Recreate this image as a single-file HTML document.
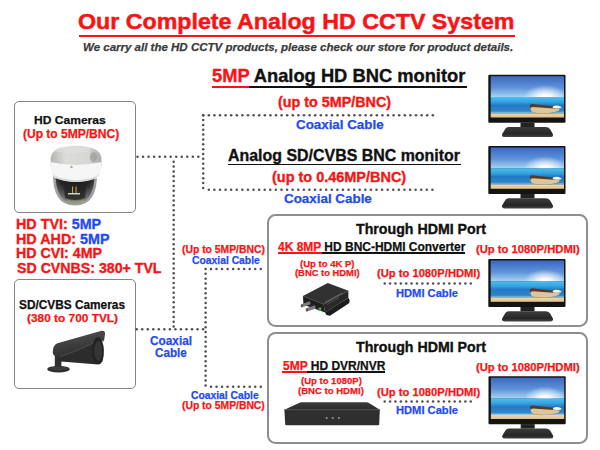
<!DOCTYPE html>
<html><head><meta charset="utf-8"><style>
html,body{margin:0;padding:0;background:#fff;}
body{width:600px;height:450px;position:relative;overflow:hidden;font-family:'Liberation Sans',sans-serif;}
.t{position:absolute;white-space:nowrap;line-height:1;font-weight:bold;transform-origin:0 0;-webkit-text-stroke:0.2px currentColor;}
.box{position:absolute;box-sizing:border-box;border:2px solid #8e8e8e;}
.ul{position:absolute;}
svg{position:absolute;left:0;top:0;}
</style></head>
<body>
<div class='box' style='left:13.6px;top:100.8px;width:122.10px;height:112.50px;border-radius:5px;border:1.5px solid #858585;'></div><div class='box' style='left:13.6px;top:279.3px;width:122.10px;height:110.10px;border-radius:5px;border:1.5px solid #858585;'></div><div class='box' style='left:266.6px;top:213.5px;width:321.20px;height:113.00px;border-radius:8.5px;'></div><div class='box' style='left:266.6px;top:332.2px;width:321.20px;height:111.80px;border-radius:8.5px;'></div><div class='ul' style='left:78.8px;top:34.8px;width:436.2px;height:2.3px;background:#f81414'></div><div class='ul' style='left:212.3px;top:85.5px;width:254.7px;height:2px;background:#111'></div><div class='ul' style='left:212.3px;top:85.5px;width:37.19999999999999px;height:2px;background:#f81414'></div><div class='ul' style='left:227.5px;top:163.6px;width:233.0px;height:1.7px;background:#111'></div><div class='ul' style='left:277.5px;top:252.3px;width:187.5px;height:1.8px;background:#111'></div><div class='ul' style='left:277.5px;top:252.3px;width:44.0px;height:1.8px;background:#f81414'></div><div class='ul' style='left:282.3px;top:371.2px;width:102.30000000000001px;height:1.8px;background:#111'></div><div class='ul' style='left:282.3px;top:371.2px;width:24.69999999999999px;height:1.8px;background:#f81414'></div>
<svg width="600" height="450" viewBox="0 0 600 450">
<defs>
<symbol id="mon" viewBox="0 0 78 63" overflow="visible">
  <defs>
    <linearGradient id="sky" x1="0" y1="0" x2="0" y2="1">
      <stop offset="0" stop-color="#3a68c2"/>
      <stop offset="0.55" stop-color="#5f93d8"/>
      <stop offset="1" stop-color="#a8d4f2"/>
    </linearGradient>
    <linearGradient id="sea" x1="0" y1="0" x2="0" y2="1">
      <stop offset="0" stop-color="#4cc0f0"/>
      <stop offset="0.3" stop-color="#34a2e0"/>
      <stop offset="0.5" stop-color="#2479c6"/>
      <stop offset="0.85" stop-color="#2f86c8"/>
      <stop offset="1" stop-color="#9fd0e6"/>
    </linearGradient>
    <linearGradient id="sand" x1="0" y1="0" x2="0" y2="1">
      <stop offset="0" stop-color="#ecd7a8"/>
      <stop offset="1" stop-color="#dfc28a"/>
    </linearGradient>
    <radialGradient id="sun" cx="0.5" cy="0.5" r="0.5">
      <stop offset="0" stop-color="#ffffff" stop-opacity="1"/>
      <stop offset="0.3" stop-color="#ffffff" stop-opacity="0.9"/>
      <stop offset="1" stop-color="#ffffff" stop-opacity="0"/>
    </radialGradient>
    <linearGradient id="base" x1="0" y1="0" x2="0" y2="1">
      <stop offset="0" stop-color="#3c3c3c"/>
      <stop offset="0.7" stop-color="#262626"/>
      <stop offset="1" stop-color="#454545"/>
    </linearGradient>
    <clipPath id="skyclip"><rect x="2.4" y="1.5" width="73.3" height="20.8"/></clipPath>
  </defs>
  <rect x="0" y="0" width="77.2" height="48" rx="1" fill="#141414"/>
  <rect x="2.4" y="1.5" width="73.3" height="20.9" fill="url(#sky)"/>
  <ellipse cx="56.6" cy="22.3" rx="21" ry="12" fill="url(#sun)" clip-path="url(#skyclip)" opacity="0.9"/>
  <ellipse cx="56.6" cy="22.3" rx="9" ry="4" fill="url(#sun)" clip-path="url(#skyclip)"/>
  <rect x="2.4" y="22.3" width="73.3" height="16.5" fill="url(#sea)"/>
  <rect x="2.4" y="38.7" width="73.3" height="4.1" fill="url(#sand)"/>
  <path d="M41.6 31.2 Q42 36.5 45.5 38.3 L53 38.7 Q64 38.4 70 36.2 L72.6 33 L44 30.8 Z" fill="#dcc79c"/>
  <path d="M43.5 36.5 Q45 38.2 53 38.6 Q64 38.3 70 36.2 L69 37.3 Q63 39 53 39 Q46 38.8 44 37.5 Z" fill="#9c7a52" opacity="0.7"/>
  <path d="M41.3 31 Q41.6 29.1 44 29.3 L72.8 32.4 L72.4 34.2 L44.5 32.3 Q42.6 32.4 42.2 34 Z" fill="#5a3a26"/>
  <path d="M64.5 31.8 Q68 29.6 73 32.2 L72.6 33.6 Q68.5 34 64.5 33.2 Z" fill="#f2f4f6"/>
  <rect x="32.2" y="47.9" width="14" height="4.5" fill="#222"/>
  <path d="M20 52.2 L57.7 52.2 Q60.8 52.4 62 54.8 L64.6 59.6 Q65.4 62.4 62 62.4 L16.4 62.4 Q13 62.4 13.8 59.6 L16.6 54.8 Q17.6 52.4 20 52.2 Z" fill="url(#base)"/>
</symbol>
</defs>
<g fill="#505050"><circle cx='203.20' cy='115.20' r='1.25'/><circle cx='208.80' cy='115.20' r='1.25'/><circle cx='214.40' cy='115.20' r='1.25'/><circle cx='220.00' cy='115.20' r='1.25'/><circle cx='225.60' cy='115.20' r='1.25'/><circle cx='231.20' cy='115.20' r='1.25'/><circle cx='236.80' cy='115.20' r='1.25'/><circle cx='242.40' cy='115.20' r='1.25'/><circle cx='248.00' cy='115.20' r='1.25'/><circle cx='253.60' cy='115.20' r='1.25'/><circle cx='259.20' cy='115.20' r='1.25'/><circle cx='264.80' cy='115.20' r='1.25'/><circle cx='270.40' cy='115.20' r='1.25'/><circle cx='276.00' cy='115.20' r='1.25'/><circle cx='281.60' cy='115.20' r='1.25'/><circle cx='287.20' cy='115.20' r='1.25'/><circle cx='292.80' cy='115.20' r='1.25'/><circle cx='298.40' cy='115.20' r='1.25'/><circle cx='304.00' cy='115.20' r='1.25'/><circle cx='309.60' cy='115.20' r='1.25'/><circle cx='315.20' cy='115.20' r='1.25'/><circle cx='320.80' cy='115.20' r='1.25'/><circle cx='326.40' cy='115.20' r='1.25'/><circle cx='332.00' cy='115.20' r='1.25'/><circle cx='337.60' cy='115.20' r='1.25'/><circle cx='343.20' cy='115.20' r='1.25'/><circle cx='348.80' cy='115.20' r='1.25'/><circle cx='354.40' cy='115.20' r='1.25'/><circle cx='360.00' cy='115.20' r='1.25'/><circle cx='365.60' cy='115.20' r='1.25'/><circle cx='371.20' cy='115.20' r='1.25'/><circle cx='376.80' cy='115.20' r='1.25'/><circle cx='382.40' cy='115.20' r='1.25'/><circle cx='388.00' cy='115.20' r='1.25'/><circle cx='393.60' cy='115.20' r='1.25'/><circle cx='399.20' cy='115.20' r='1.25'/><circle cx='404.80' cy='115.20' r='1.25'/><circle cx='410.40' cy='115.20' r='1.25'/><circle cx='416.00' cy='115.20' r='1.25'/><circle cx='421.60' cy='115.20' r='1.25'/><circle cx='427.20' cy='115.20' r='1.25'/><circle cx='432.80' cy='115.20' r='1.25'/><circle cx='203.20' cy='115.20' r='1.25'/><circle cx='203.20' cy='120.05' r='1.25'/><circle cx='203.20' cy='124.90' r='1.25'/><circle cx='203.20' cy='129.75' r='1.25'/><circle cx='203.20' cy='134.60' r='1.25'/><circle cx='203.20' cy='139.45' r='1.25'/><circle cx='203.20' cy='144.30' r='1.25'/><circle cx='203.20' cy='149.15' r='1.25'/><circle cx='203.20' cy='154.00' r='1.25'/><circle cx='203.20' cy='158.85' r='1.25'/><circle cx='203.20' cy='163.70' r='1.25'/><circle cx='203.20' cy='168.55' r='1.25'/><circle cx='203.20' cy='173.40' r='1.25'/><circle cx='203.20' cy='178.25' r='1.25'/><circle cx='203.20' cy='183.10' r='1.25'/><circle cx='203.20' cy='187.95' r='1.25'/><circle cx='208.80' cy='189.80' r='1.25'/><circle cx='214.39' cy='189.80' r='1.25'/><circle cx='219.98' cy='189.80' r='1.25'/><circle cx='225.57' cy='189.80' r='1.25'/><circle cx='231.16' cy='189.80' r='1.25'/><circle cx='236.75' cy='189.80' r='1.25'/><circle cx='242.34' cy='189.80' r='1.25'/><circle cx='247.93' cy='189.80' r='1.25'/><circle cx='253.52' cy='189.80' r='1.25'/><circle cx='259.11' cy='189.80' r='1.25'/><circle cx='264.70' cy='189.80' r='1.25'/><circle cx='270.29' cy='189.80' r='1.25'/><circle cx='275.88' cy='189.80' r='1.25'/><circle cx='281.47' cy='189.80' r='1.25'/><circle cx='287.06' cy='189.80' r='1.25'/><circle cx='292.65' cy='189.80' r='1.25'/><circle cx='298.24' cy='189.80' r='1.25'/><circle cx='303.83' cy='189.80' r='1.25'/><circle cx='309.42' cy='189.80' r='1.25'/><circle cx='315.01' cy='189.80' r='1.25'/><circle cx='320.60' cy='189.80' r='1.25'/><circle cx='326.19' cy='189.80' r='1.25'/><circle cx='331.78' cy='189.80' r='1.25'/><circle cx='337.37' cy='189.80' r='1.25'/><circle cx='342.96' cy='189.80' r='1.25'/><circle cx='348.55' cy='189.80' r='1.25'/><circle cx='354.14' cy='189.80' r='1.25'/><circle cx='359.73' cy='189.80' r='1.25'/><circle cx='365.32' cy='189.80' r='1.25'/><circle cx='370.91' cy='189.80' r='1.25'/><circle cx='376.50' cy='189.80' r='1.25'/><circle cx='382.09' cy='189.80' r='1.25'/><circle cx='387.68' cy='189.80' r='1.25'/><circle cx='393.27' cy='189.80' r='1.25'/><circle cx='398.86' cy='189.80' r='1.25'/><circle cx='404.45' cy='189.80' r='1.25'/><circle cx='410.04' cy='189.80' r='1.25'/><circle cx='415.63' cy='189.80' r='1.25'/><circle cx='421.22' cy='189.80' r='1.25'/><circle cx='426.81' cy='189.80' r='1.25'/><circle cx='432.40' cy='189.80' r='1.25'/><circle cx='137.50' cy='156.70' r='1.25'/><circle cx='143.03' cy='156.70' r='1.25'/><circle cx='148.56' cy='156.70' r='1.25'/><circle cx='154.09' cy='156.70' r='1.25'/><circle cx='159.62' cy='156.70' r='1.25'/><circle cx='165.15' cy='156.70' r='1.25'/><circle cx='170.68' cy='156.70' r='1.25'/><circle cx='176.21' cy='156.70' r='1.25'/><circle cx='181.74' cy='156.70' r='1.25'/><circle cx='187.27' cy='156.70' r='1.25'/><circle cx='192.80' cy='156.70' r='1.25'/><circle cx='198.33' cy='156.70' r='1.25'/><circle cx='173.70' cy='161.70' r='1.25'/><circle cx='173.70' cy='166.55' r='1.25'/><circle cx='173.70' cy='171.40' r='1.25'/><circle cx='173.70' cy='176.25' r='1.25'/><circle cx='173.70' cy='181.10' r='1.25'/><circle cx='173.70' cy='185.95' r='1.25'/><circle cx='173.70' cy='190.80' r='1.25'/><circle cx='173.70' cy='195.65' r='1.25'/><circle cx='173.70' cy='200.50' r='1.25'/><circle cx='173.70' cy='205.35' r='1.25'/><circle cx='173.70' cy='210.20' r='1.25'/><circle cx='173.70' cy='215.05' r='1.25'/><circle cx='173.70' cy='219.90' r='1.25'/><circle cx='173.70' cy='224.75' r='1.25'/><circle cx='173.70' cy='229.60' r='1.25'/><circle cx='173.70' cy='234.45' r='1.25'/><circle cx='173.70' cy='239.30' r='1.25'/><circle cx='173.70' cy='244.15' r='1.25'/><circle cx='173.70' cy='249.00' r='1.25'/><circle cx='173.70' cy='253.85' r='1.25'/><circle cx='173.70' cy='258.70' r='1.25'/><circle cx='173.70' cy='263.55' r='1.25'/><circle cx='173.70' cy='268.40' r='1.25'/><circle cx='173.70' cy='273.25' r='1.25'/><circle cx='173.70' cy='278.10' r='1.25'/><circle cx='173.70' cy='282.95' r='1.25'/><circle cx='173.70' cy='287.80' r='1.25'/><circle cx='173.70' cy='292.65' r='1.25'/><circle cx='173.70' cy='297.50' r='1.25'/><circle cx='173.70' cy='302.35' r='1.25'/><circle cx='173.70' cy='307.20' r='1.25'/><circle cx='173.70' cy='312.05' r='1.25'/><circle cx='173.70' cy='316.90' r='1.25'/><circle cx='173.70' cy='321.75' r='1.25'/><circle cx='173.70' cy='326.60' r='1.25'/><circle cx='136.70' cy='329.20' r='1.25'/><circle cx='142.23' cy='329.20' r='1.25'/><circle cx='147.76' cy='329.20' r='1.25'/><circle cx='153.29' cy='329.20' r='1.25'/><circle cx='158.82' cy='329.20' r='1.25'/><circle cx='164.35' cy='329.20' r='1.25'/><circle cx='169.88' cy='329.20' r='1.25'/><circle cx='175.41' cy='329.20' r='1.25'/><circle cx='180.94' cy='329.20' r='1.25'/><circle cx='186.47' cy='329.20' r='1.25'/><circle cx='192.00' cy='329.20' r='1.25'/><circle cx='197.53' cy='329.20' r='1.25'/><circle cx='203.06' cy='329.20' r='1.25'/><circle cx='205.60' cy='269.00' r='1.25'/><circle cx='205.60' cy='273.85' r='1.25'/><circle cx='205.60' cy='278.70' r='1.25'/><circle cx='205.60' cy='283.55' r='1.25'/><circle cx='205.60' cy='288.40' r='1.25'/><circle cx='205.60' cy='293.25' r='1.25'/><circle cx='205.60' cy='298.10' r='1.25'/><circle cx='205.60' cy='302.95' r='1.25'/><circle cx='205.60' cy='307.80' r='1.25'/><circle cx='205.60' cy='312.65' r='1.25'/><circle cx='205.60' cy='317.50' r='1.25'/><circle cx='205.60' cy='322.35' r='1.25'/><circle cx='205.60' cy='327.20' r='1.25'/><circle cx='205.60' cy='332.05' r='1.25'/><circle cx='205.60' cy='336.90' r='1.25'/><circle cx='205.60' cy='341.75' r='1.25'/><circle cx='205.60' cy='346.60' r='1.25'/><circle cx='205.60' cy='351.45' r='1.25'/><circle cx='205.60' cy='356.30' r='1.25'/><circle cx='205.60' cy='361.15' r='1.25'/><circle cx='205.60' cy='366.00' r='1.25'/><circle cx='205.60' cy='370.85' r='1.25'/><circle cx='205.60' cy='375.70' r='1.25'/><circle cx='205.60' cy='380.55' r='1.25'/><circle cx='205.60' cy='385.40' r='1.25'/><circle cx='211.00' cy='269.10' r='1.25'/><circle cx='216.53' cy='269.10' r='1.25'/><circle cx='222.06' cy='269.10' r='1.25'/><circle cx='227.59' cy='269.10' r='1.25'/><circle cx='233.12' cy='269.10' r='1.25'/><circle cx='238.65' cy='269.10' r='1.25'/><circle cx='244.18' cy='269.10' r='1.25'/><circle cx='249.71' cy='269.10' r='1.25'/><circle cx='255.24' cy='269.10' r='1.25'/><circle cx='260.77' cy='269.10' r='1.25'/><circle cx='211.00' cy='386.80' r='1.25'/><circle cx='216.53' cy='386.80' r='1.25'/><circle cx='222.06' cy='386.80' r='1.25'/><circle cx='227.59' cy='386.80' r='1.25'/><circle cx='233.12' cy='386.80' r='1.25'/><circle cx='238.65' cy='386.80' r='1.25'/><circle cx='244.18' cy='386.80' r='1.25'/><circle cx='249.71' cy='386.80' r='1.25'/><circle cx='255.24' cy='386.80' r='1.25'/><circle cx='260.77' cy='386.80' r='1.25'/><circle cx='384.70' cy='283.40' r='1.25'/><circle cx='390.08' cy='283.40' r='1.25'/><circle cx='395.46' cy='283.40' r='1.25'/><circle cx='400.84' cy='283.40' r='1.25'/><circle cx='406.22' cy='283.40' r='1.25'/><circle cx='411.60' cy='283.40' r='1.25'/><circle cx='416.98' cy='283.40' r='1.25'/><circle cx='422.36' cy='283.40' r='1.25'/><circle cx='427.74' cy='283.40' r='1.25'/><circle cx='433.12' cy='283.40' r='1.25'/><circle cx='438.50' cy='283.40' r='1.25'/><circle cx='443.88' cy='283.40' r='1.25'/><circle cx='449.26' cy='283.40' r='1.25'/><circle cx='454.64' cy='283.40' r='1.25'/><circle cx='460.02' cy='283.40' r='1.25'/><circle cx='465.40' cy='283.40' r='1.25'/><circle cx='470.78' cy='283.40' r='1.25'/><circle cx='384.70' cy='401.40' r='1.25'/><circle cx='390.08' cy='401.40' r='1.25'/><circle cx='395.46' cy='401.40' r='1.25'/><circle cx='400.84' cy='401.40' r='1.25'/><circle cx='406.22' cy='401.40' r='1.25'/><circle cx='411.60' cy='401.40' r='1.25'/><circle cx='416.98' cy='401.40' r='1.25'/><circle cx='422.36' cy='401.40' r='1.25'/><circle cx='427.74' cy='401.40' r='1.25'/><circle cx='433.12' cy='401.40' r='1.25'/><circle cx='438.50' cy='401.40' r='1.25'/><circle cx='443.88' cy='401.40' r='1.25'/><circle cx='449.26' cy='401.40' r='1.25'/><circle cx='454.64' cy='401.40' r='1.25'/><circle cx='460.02' cy='401.40' r='1.25'/><circle cx='465.40' cy='401.40' r='1.25'/><circle cx='470.78' cy='401.40' r='1.25'/></g>
<use href="#mon" x="488.3" y="74.7" width="78" height="63"/>
<use href="#mon" x="488.3" y="146" width="78" height="63"/>
<use href="#mon" x="488.3" y="259" width="78" height="63"/>
<use href="#mon" x="488.5" y="376.2" width="78" height="63"/>

<defs>
  <linearGradient id="domeHouse" x1="0" y1="0" x2="1" y2="0">
    <stop offset="0" stop-color="#b4b4b2"/>
    <stop offset="0.3" stop-color="#dcdcda"/>
    <stop offset="0.75" stop-color="#d6d6d4"/>
    <stop offset="1" stop-color="#a8a8a6"/>
  </linearGradient>
  <radialGradient id="domeGlass" cx="0.5" cy="0.15" r="0.95">
    <stop offset="0" stop-color="#111"/>
    <stop offset="0.45" stop-color="#262626"/>
    <stop offset="0.75" stop-color="#6a6a6a"/>
    <stop offset="1" stop-color="#a8a8a8"/>
  </radialGradient>
  <linearGradient id="dvrTop" x1="0" y1="0" x2="0" y2="1">
    <stop offset="0" stop-color="#3c3c3c"/>
    <stop offset="1" stop-color="#2a2a2a"/>
  </linearGradient>
  <linearGradient id="bullet" x1="0" y1="0" x2="0.3" y2="1">
    <stop offset="0" stop-color="#525252"/>
    <stop offset="1" stop-color="#303030"/>
  </linearGradient>
</defs>
<!-- dome camera -->
<path d="M50.5 166 L50.7 158 Q52 146.3 76 145.8 Q100 146.3 101.4 158 L101.6 166 Z" fill="url(#domeHouse)"/>
<ellipse cx="72" cy="150" rx="18" ry="3.2" fill="#e2e2e2" opacity="0.55"/>
<ellipse cx="93.5" cy="157" rx="3.6" ry="4.8" fill="#9a9a9a" opacity="0.7"/>
<path d="M53 170 Q51.5 205.6 75 205.6 Q98.5 205.6 97 170 Z" fill="#a0a0a0"/>
<path d="M55.5 170 Q54.5 203.5 75 203.5 Q95.5 203.5 94.5 170 Z" fill="url(#domeGlass)"/>
<path d="M64 185 Q75 183 86 185 L85 198 Q75 202 65 198 Z" fill="#242424" opacity="0.8"/>
<rect x="72" y="186.5" width="1.1" height="6.5" fill="#c8a040"/>
<rect x="75.5" y="186.5" width="1.1" height="6.5" fill="#c8a040"/>
<rect x="68" y="193" width="12" height="1.5" fill="#cfcfcf"/>
<path d="M67 199.5 Q75 202.5 84 199.5 L83 202.5 Q75 204 68 202.5 Z" fill="#9aa860" opacity="0.7"/>
<path d="M50.5 162 Q76 168 101.6 162 L101.6 168 Q100.5 176 97 178 Q76 186 55 178 Q51.5 176 50.5 168 Z" fill="#f6f6f6"/>
<path d="M52 173 Q55 178.5 76 180.2 Q97 178.5 100 173 Q97 181 76 182 Q55 181 52 173 Z" fill="#cfcfcf" opacity="0.8"/>
<circle cx="71.5" cy="167" r="1.2" fill="#a8a8a8"/>
<!-- bullet camera -->
<rect x="54.8" y="356" width="6.6" height="12" fill="#303030"/>
<ellipse cx="58.5" cy="369.2" rx="11.3" ry="3.3" fill="#2e2e2e"/>
<ellipse cx="58.5" cy="368.4" rx="9" ry="2" fill="#3c3c3c"/>
<path d="M55.5 352 L99 336 Q104 344 103.5 356 Q103 364.5 98 364.5 L61 361.5 Q55 359.5 55.5 352 Z" fill="#2c2c2c"/>
<path d="M52.8 353.5 Q52.5 345 57.5 343.2 L101.5 330.8 Q105.3 330.2 105 334 L104 341 Q98 339 93 343 Q80 350 60 356.5 Q55 357.5 52.8 353.5 Z" fill="url(#bullet)"/>
<path d="M60 356.5 Q80 350 93 343 Q98 339 104 341" stroke="#5a5a5a" stroke-width="0.7" fill="none"/>
<ellipse cx="98" cy="350.5" rx="5.8" ry="13.2" fill="#222"/>
<ellipse cx="98.3" cy="351" rx="4" ry="10" fill="#353535"/>
<!-- converter -->
<path d="M325 312.5 L348.4 297.8 L349.6 300 L349.4 303 L330 315.8 L326.5 315 Z" fill="#1c1c1c"/>
<path d="M302.9 296 L327.8 283 L348.4 290.7 L323.5 304.2 Z" fill="#313131"/>
<path d="M302.9 296 L323.5 304.2 L325.2 312.5 L303.5 304.8 Z" fill="#1e1e1e"/>
<path d="M323.5 304.2 L348.4 290.7 L348.4 297.8 L325.2 312.5 Z" fill="#282828"/>
<path d="M303 296.2 L323.5 304.2 L348.4 290.7" stroke="#4a4a4a" stroke-width="0.5" fill="none"/>
<path d="M324.5 302.8 L342 293.2" stroke="#8a8a8a" stroke-width="0.7"/>
<path d="M327 304.4 L339 297.8" stroke="#6a6a6a" stroke-width="0.6"/>
<path d="M301.3 304.2 L309.8 301.2 L310.8 304.3 L302.3 307.3 Z" fill="#7c7c7c"/>
<ellipse cx="301.8" cy="305.8" rx="1.1" ry="1.6" fill="#555"/>
<path d="M306.3 308.3 L314.8 305.3 L315.8 308.4 L307.3 311.4 Z" fill="#7c7c7c"/>
<ellipse cx="306.8" cy="309.9" rx="1.1" ry="1.6" fill="#555"/>
<rect x="318.5" y="307.5" width="2.8" height="3.4" fill="#4da04d"/>
<!-- DVR -->
<path d="M301.5 402.3 L366.5 402.3 Q368 402.4 369 403 L379.8 409.7 L284.4 409.7 L299 403 Q300 402.4 301.5 402.3 Z" fill="url(#dvrTop)"/>
<path d="M284.4 409.7 L379.8 409.7 L379.2 424.5 Q379 425.3 378 425.3 L286.4 425.3 Q285.4 425.3 285.2 424.5 Z" fill="#2f2f2f"/>
<path d="M284.4 409.7 L379.8 409.7" stroke="#4c4c4c" stroke-width="0.8"/>
<circle cx="326.6" cy="417.9" r="1" fill="#9a9a9a"/>
<circle cx="332.7" cy="417.9" r="1" fill="#9a9a9a"/>
<circle cx="338.9" cy="417.9" r="1" fill="#9a9a9a"/>

</svg>
<div class='t' style="left:78.48px;top:9.80px;font-size:22.66px;color:#f81414;transform:scaleX(1.0248);-webkit-text-stroke:0.5px currentColor">Our Complete Analog HD CCTV System</div>
<div class='t' style="left:82.74px;top:41.70px;font-size:11.43px;color:#3a3a3a;font-style:italic;transform:scaleX(1.0076);-webkit-text-stroke:0.25px currentColor">We carry all the HD CCTV products, please check our store for product details.</div>
<div class='t' style="left:211.51px;top:66.90px;font-size:18.54px;color:#111;transform:scaleX(0.9883);-webkit-text-stroke:0.35px currentColor"><span style='color:#f81414'>5MP</span> Analog HD BNC monitor</div>
<div class='t' style="left:278.29px;top:94.60px;font-size:14.21px;color:#f81414;transform:scaleX(1.0090);-webkit-text-stroke:0.35px currentColor">(up to 5MP/BNC)</div>
<div class='t' style="left:295.60px;top:118.70px;font-size:12.36px;color:#1f4cf2;transform:scaleX(1.0802);-webkit-text-stroke:0.25px currentColor">Coaxial Cable</div>
<div class='t' style="left:227.90px;top:148.30px;font-size:15.66px;color:#111;transform:scaleX(1.0180);-webkit-text-stroke:0.35px currentColor">Analog SD/CVBS BNC monitor</div>
<div class='t' style="left:272.25px;top:169.80px;font-size:14.42px;color:#f81414;transform:scaleX(1.0038);-webkit-text-stroke:0.35px currentColor">(up to 0.46MP/BNC)</div>
<div class='t' style="left:284.25px;top:193.20px;font-size:12.36px;color:#1f4cf2;transform:scaleX(1.0833);-webkit-text-stroke:0.25px currentColor">Coaxial Cable</div>
<div class='t' style="left:33.96px;top:114.00px;font-size:11.64px;color:#111;transform:scaleX(1.0368);-webkit-text-stroke:0.25px currentColor">HD Cameras</div>
<div class='t' style="left:22.90px;top:127.90px;font-size:12.36px;color:#f81414;transform:scaleX(0.9724);-webkit-text-stroke:0.25px currentColor">(Up to 5MP/BNC)</div>
<div class='t' style="left:16.09px;top:217.00px;font-size:14.21px;color:#f81414;transform:scaleX(1.0078);-webkit-text-stroke:0.35px currentColor">HD TVI: <span style='color:#1f4cf2'>5MP</span></div>
<div class='t' style="left:16.09px;top:231.60px;font-size:14.21px;color:#f81414;transform:scaleX(1.0099);-webkit-text-stroke:0.35px currentColor">HD AHD: <span style='color:#1f4cf2'>5MP</span></div>
<div class='t' style="left:16.10px;top:246.20px;font-size:14.21px;color:#f81414;transform:scaleX(0.9988);-webkit-text-stroke:0.35px currentColor">HD CVI: 4MP</div>
<div class='t' style="left:17.10px;top:260.50px;font-size:14.21px;color:#f81414;transform:scaleX(0.9979);-webkit-text-stroke:0.35px currentColor">SD CVNBS: 380+ TVL</div>
<div class='t' style="left:19.00px;top:300.10px;font-size:11.85px;color:#111;transform:scaleX(1.0000);-webkit-text-stroke:0.25px currentColor">SD/CVBS Cameras</div>
<div class='t' style="left:27.00px;top:312.30px;font-size:11.74px;color:#f81414;transform:scaleX(1.0111);-webkit-text-stroke:0.25px currentColor">(380 to 700 TVL)</div>
<div class='t' style="left:182.00px;top:244.70px;font-size:10.30px;color:#f81414;transform:scaleX(1.0061);-webkit-text-stroke:0.25px currentColor">(Up to 5MP/BNC)</div>
<div class='t' style="left:192.00px;top:254.95px;font-size:10.81px;color:#1f4cf2;transform:scaleX(0.9577);-webkit-text-stroke:0.25px currentColor">Coaxial Cable</div>
<div class='t' style="left:150.00px;top:335.20px;font-size:12.88px;color:#1f4cf2;transform:scaleX(0.9178);-webkit-text-stroke:0.25px currentColor">Coaxial</div>
<div class='t' style="left:155.30px;top:347.20px;font-size:12.36px;color:#1f4cf2;transform:scaleX(0.9455);-webkit-text-stroke:0.25px currentColor">Cable</div>
<div class='t' style="left:191.30px;top:390.90px;font-size:10.30px;color:#1f4cf2;transform:scaleX(1.0030);-webkit-text-stroke:0.25px currentColor">Coaxial Cable</div>
<div class='t' style="left:181.50px;top:400.50px;font-size:10.30px;color:#f81414;transform:scaleX(1.0049);-webkit-text-stroke:0.25px currentColor">(Up to 5MP/BNC)</div>
<div class='t' style="left:355.90px;top:222.90px;font-size:13.91px;color:#111;transform:scaleX(1.0195);-webkit-text-stroke:0.35px currentColor">Through HDMI Port</div>
<div class='t' style="left:278.00px;top:242.20px;font-size:11.85px;color:#111;transform:scaleX(1.0108);-webkit-text-stroke:0.25px currentColor"><span style='color:#f81414'>4K 8MP</span> HD BNC-HDMI Converter</div>
<div class='t' style="left:475.90px;top:244.10px;font-size:10.81px;color:#f81414;transform:scaleX(1.0414);-webkit-text-stroke:0.25px currentColor">(Up to 1080P/HDMI)</div>
<div class='t' style="left:300.00px;top:259.00px;font-size:9.89px;color:#f81414;transform:scaleX(0.9643);-webkit-text-stroke:0.25px currentColor">(Up to 4K P)</div>
<div class='t' style="left:295.00px;top:268.40px;font-size:9.89px;color:#f81414;transform:scaleX(0.9500);-webkit-text-stroke:0.25px currentColor">(BNC to HDMI)</div>
<div class='t' style="left:377.00px;top:268.20px;font-size:10.81px;color:#f81414;transform:scaleX(1.0364);-webkit-text-stroke:0.25px currentColor">(Up to 1080P/HDMI)</div>
<div class='t' style="left:395.95px;top:288.10px;font-size:10.61px;color:#1f4cf2;transform:scaleX(1.0517);-webkit-text-stroke:0.25px currentColor">HDMI Cable</div>
<div class='t' style="left:355.90px;top:341.20px;font-size:13.91px;color:#111;transform:scaleX(1.0195);-webkit-text-stroke:0.35px currentColor">Through HDMI Port</div>
<div class='t' style="left:282.60px;top:359.90px;font-size:12.36px;color:#111;transform:scaleX(0.9695);-webkit-text-stroke:0.25px currentColor"><span style='color:#f81414'>5MP</span> HD DVR/NVR</div>
<div class='t' style="left:300.80px;top:376.20px;font-size:9.89px;color:#f81414;transform:scaleX(0.9635);-webkit-text-stroke:0.25px currentColor">(Up to 1080P)</div>
<div class='t' style="left:298.00px;top:385.60px;font-size:9.89px;color:#f81414;transform:scaleX(0.9676);-webkit-text-stroke:0.25px currentColor">(BNC to HDMI)</div>
<div class='t' style="left:475.90px;top:362.20px;font-size:10.81px;color:#f81414;transform:scaleX(1.0414);-webkit-text-stroke:0.25px currentColor">(Up to 1080P/HDMI)</div>
<div class='t' style="left:377.00px;top:386.80px;font-size:10.81px;color:#f81414;transform:scaleX(1.0364);-webkit-text-stroke:0.25px currentColor">(Up to 1080P/HDMI)</div>
<div class='t' style="left:395.95px;top:405.30px;font-size:10.61px;color:#1f4cf2;transform:scaleX(1.0517);-webkit-text-stroke:0.25px currentColor">HDMI Cable</div>
</body></html>
